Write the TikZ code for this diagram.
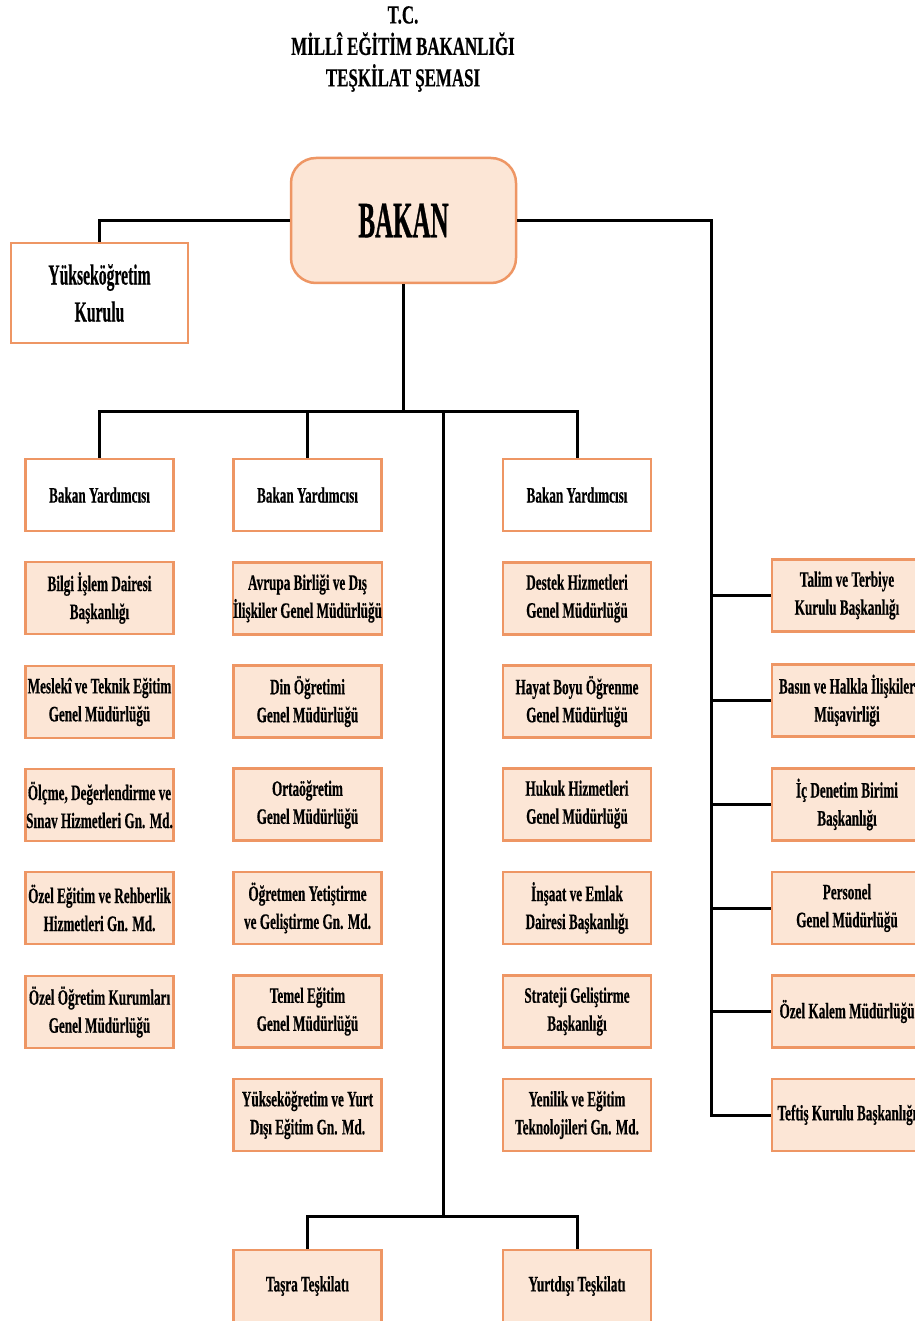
\documentclass[tikz,border=0pt]{standalone}
\usepackage{fontspec}
\newfontfamily\boxf[FakeStretch=0.6,FakeBold=0.4]{Liberation Serif Bold}
\newfontfamily\titf[FakeStretch=0.65,FakeBold=0.4]{Liberation Serif Bold}
\newfontfamily\bakf[FakeStretch=0.49,FakeBold=0.6]{Liberation Serif Bold}
\newfontfamily\yokf[FakeStretch=0.54,FakeBold=0.4]{Liberation Serif Bold}
\definecolor{peach}{RGB}{252,230,214}
\definecolor{oborder}{RGB}{238,150,100}
\begin{document}
\begin{tikzpicture}[x=1pt,y=-1pt,
  base/.style={draw=oborder, line width=2.5pt, inner sep=0pt, align=center,
    minimum width=148pt, minimum height=72pt, font=\boxf\fontsize{22}{28}\selectfont},
  obox/.style={base, fill=peach},
  wbox/.style={base, fill=white},
  conn/.style={line width=3pt, black}]
\fill[white] (0,0) rectangle (914,1321);
\useasboundingbox (0,0) rectangle (914,1321);

% title
\node[font=\titf\fontsize{26}{31.5}\selectfont, align=center] (title) at (403,49)
  {T.C.\\MİLLÎ EĞİTİM BAKANLIĞI\\TEŞKİLAT ŞEMASI};

% top
\node[obox, rounded corners=25pt, minimum width=225pt, minimum height=125pt,
  font=\bakf\fontsize{51}{60}\selectfont] (bakan) at (403.5,220.5) {BAKAN};
\node[wbox, minimum width=177pt, minimum height=100pt,
  font=\yokf\fontsize{29}{37}\selectfont] (yok) at (99.5,293) {Yükseköğretim\\Kurulu};

% deputies
\node[wbox] (by1) at (99.5,495) {Bakan Yardımcısı};
\node[wbox] (by2) at (307.5,495) {Bakan Yardımcısı};
\node[wbox] (by3) at (577,495) {Bakan Yardımcısı};

% column 1
\node[obox] (a1) at (99.5,598) {Bilgi İşlem Dairesi\\Başkanlığı};
\node[obox] (a2) at (99.5,702) {Meslekî ve Teknik Eğitim\\Genel Müdürlüğü};
\node[obox] (a3) at (99.5,805) {Ölçme, Değerlendirme ve\\Sınav Hizmetleri Gn. Md.};
\node[obox] (a4) at (99.5,908) {Özel Eğitim ve Rehberlik\\Hizmetleri Gn. Md.};
\node[obox] (a5) at (99.5,1012) {Özel Öğretim Kurumları\\Genel Müdürlüğü};

% column 2
\node[obox] (b1) at (307.5,598.5) {Avrupa Birliği ve Dış\\İlişkiler Genel Müdürlüğü};
\node[obox] (b2) at (307.5,701.5) {Din Öğretimi\\Genel Müdürlüğü};
\node[obox] (b3) at (307.5,804.5) {Ortaöğretim\\Genel Müdürlüğü};
\node[obox] (b4) at (307.5,908) {Öğretmen Yetiştirme\\ve Geliştirme Gn. Md.};
\node[obox] (b5) at (307.5,1011.5) {Temel Eğitim\\Genel Müdürlüğü};
\node[obox] (b6) at (307.5,1115) {Yükseköğretim ve Yurt\\Dışı Eğitim Gn. Md.};

% column 3
\node[obox] (c1) at (577,598.5) {Destek Hizmetleri\\Genel Müdürlüğü};
\node[obox] (c2) at (577,701.5) {Hayat Boyu Öğrenme\\Genel Müdürlüğü};
\node[obox] (c3) at (577,804.5) {Hukuk Hizmetleri\\Genel Müdürlüğü};
\node[obox] (c4) at (577,908) {İnşaat ve Emlak\\Dairesi Başkanlığı};
\node[obox] (c5) at (577,1011.5) {Strateji Geliştirme\\Başkanlığı};
\node[obox] (c6) at (577,1115) {Yenilik ve Eğitim\\Teknolojileri Gn. Md.};

% right column
\node[obox, minimum width=150pt] (r1) at (847,595.5) {Talim ve Terbiye\\Kurulu Başkanlığı};
\node[obox, minimum width=150pt] (r2) at (847,700.5) {Basın ve Halkla İlişkiler\\Müşavirliği};
\node[obox, minimum width=150pt] (r3) at (847,804.5) {İç Denetim Birimi\\Başkanlığı};
\node[obox, minimum width=150pt] (r4) at (847,908) {Personel\\Genel Müdürlüğü};
\node[obox, minimum width=150pt] (r5) at (847,1011.5) {Özel Kalem Müdürlüğü};
\node[obox, minimum width=150pt] (r6) at (847,1115) {Teftiş Kurulu Başkanlığı};

% bottom
\node[obox] (tasra) at (307.5,1286) {Taşra Teşkilatı};
\node[obox] (yurt) at (577,1286) {Yurtdışı Teşkilatı};

% helper coordinates
\coordinate (hb) at (403.5,411);
\coordinate (cv) at (443,411);
\coordinate (cb) at (443,1216);
\coordinate (rj) at (711,1115);

% connectors
\draw[conn] (bakan.west) -| (yok.north);
\draw[conn] (bakan.east) -| (rj) -- (r6.west);
\foreach \n in {r1,r2,r3,r4,r5}{\draw[conn] (\n.west -| rj) -- (\n.west);}
\draw[conn] (bakan.south) -- (hb);
\draw[conn] (by1.north) |- (hb -| by3.north) -- (by3.north);
\draw[conn] (by2.north |- hb) -- (by2.north);
\draw[conn] (cv) -- (cb);
\draw[conn] (tasra.north) |- (cb -| yurt.north) -- (yurt.north);
\end{tikzpicture}
\end{document}
